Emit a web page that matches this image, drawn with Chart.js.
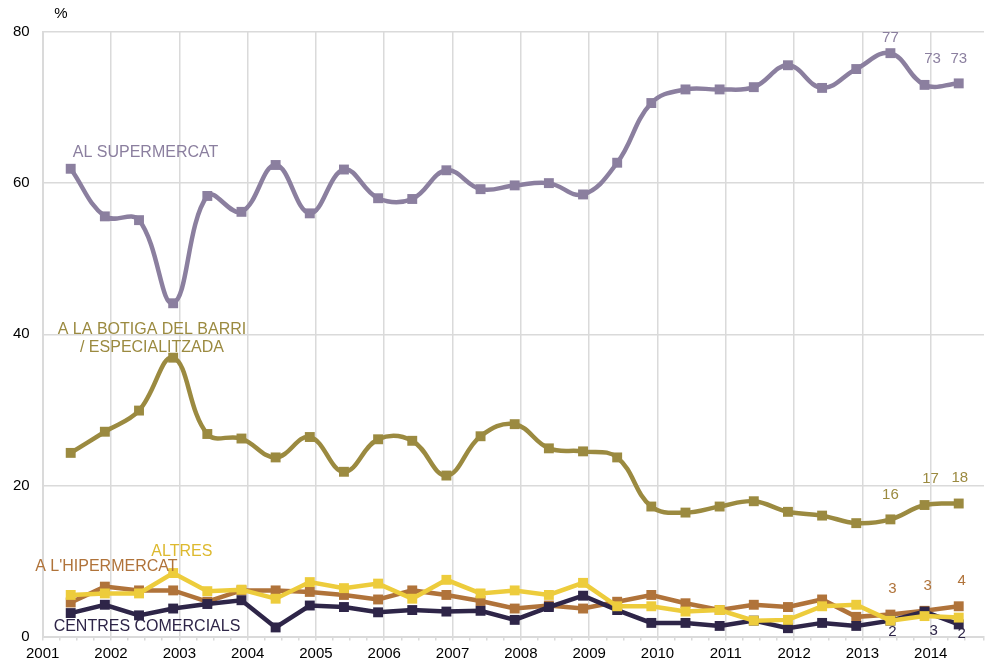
<!DOCTYPE html>
<html>
<head>
<meta charset="utf-8">
<script src="https://cdn.jsdelivr.net/npm/chart.js@4/dist/chart.umd.min.js"></script>
<style>
  html, body { margin: 0; padding: 0; background: #fff; }
  #wrap { width: 991px; height: 663px; position: relative; }
</style>
</head>
<body>
<div id="wrap"><canvas id="lineChart"></canvas></div>
<script>
// survey waves (decimal year of each fieldwork)
var dates = [2001.41, 2001.91, 2002.41, 2002.91, 2003.41, 2003.91, 2004.41, 2004.91, 2005.41,
             2005.91, 2006.41, 2006.91, 2007.41, 2007.91, 2008.41, 2008.91, 2009.41, 2009.91,
             2010.41, 2010.91, 2011.41, 2011.91, 2012.41, 2012.91, 2013.41, 2013.91, 2014.41];

var supermercat = [61.9, 55.6, 55.1, 44.1, 58.3, 56.2, 62.4, 56.0, 61.8, 58.0, 57.9, 61.7, 59.2, 59.7,
                   60.0, 58.5, 62.7, 70.6, 72.4, 72.4, 72.7, 75.6, 72.6, 75.1, 77.2, 73.0, 73.2];
var botiga = [24.3, 27.1, 29.9, 36.9, 26.8, 26.2, 23.7, 26.4, 21.8, 26.1, 25.9, 21.3, 26.5, 28.1,
              24.9, 24.5, 23.7, 17.2, 16.4, 17.2, 17.9, 16.5, 16.0, 15.0, 15.5, 17.4, 17.6];
var hipermercat = [4.5, 6.6, 6.1, 6.1, 4.6, 6.1, 6.1, 5.9, 5.5, 4.9, 6.1, 5.5, 4.7, 3.7,
                   4.1, 3.7, 4.6, 5.5, 4.4, 3.5, 4.2, 3.9, 4.9, 2.6, 2.9, 3.4, 4.0];
var altres = [5.5, 5.7, 5.7, 8.4, 6.0, 6.2, 5.0, 7.2, 6.4, 7.0, 5.0, 7.5, 5.7, 6.1,
              5.5, 7.1, 4.0, 4.0, 3.3, 3.5, 2.1, 2.2, 4.0, 4.2, 2.1, 2.7, 2.5];
var centres = [3.1, 4.2, 2.8, 3.7, 4.3, 4.8, 1.2, 4.1, 3.9, 3.2, 3.5, 3.3, 3.4, 2.2,
               3.9, 5.4, 3.5, 1.8, 1.8, 1.4, 2.1, 1.1, 1.8, 1.4, 2.1, 3.3, 1.6];

var yTicks = [0, 20, 40, 60, 80];

var colors = {
    supermercat: '#8B7F9F',
    botiga: '#9B8A40',
    hipermercat: '#B0733A',
    altres: '#EDCC3C',
    altresText: '#DDB92E',
    centres: '#2E2548'
};
var gridColor = '#DADADA';
var FONT = '"Liberation Sans", Arial, sans-serif';

function pts(values) {
    return values.map((v, i) => ({ x: dates[i], y: v }));
}

function series(label, values, color, tension, order) {
    return {
        label: label,
        data: pts(values),
        borderColor: color,
        backgroundColor: color,
        borderWidth: 4.5,
        pointStyle: 'rect',
        pointRadius: 7,
        pointBorderWidth: 0,
        pointBackgroundColor: color,
        tension: tension,
        fill: false,
        order: order,
        clip: false
    };
}

// labels written on the plot (series names and the last values)
var labelPlugin = {
    id: 'labels',
    afterDatasetsDraw(chart) {
        var ctx = chart.ctx;
        var xs = chart.scales.x, ys = chart.scales.y;
        ctx.save();

        // "%" unit
        ctx.font = '15px ' + FONT;
        ctx.fillStyle = '#000';
        ctx.textAlign = 'center';
        ctx.textBaseline = 'middle';
        ctx.fillText('%', 61, 14);

        // series names
        ctx.font = '16px ' + FONT;
        var names = [
            { t: 'AL SUPERMERCAT', x: 2001.44, y: 64.0, c: colors.supermercat, a: 'left' },
            { t: 'A LA BOTIGA DEL BARRI', x: 2002.6, y: 40.6, c: colors.botiga, a: 'center' },
            { t: '/ ESPECIALITZADA', x: 2002.6, y: 38.2, c: colors.botiga, a: 'center' },
            { t: 'ALTRES', x: 2002.59, y: 11.3, c: colors.altresText, a: 'left' },
            { t: "A L'HIPERMERCAT", x: 2000.89, y: 9.2, c: colors.hipermercat, a: 'left' },
            { t: 'CENTRES COMERCIALS', x: 2001.16, y: 1.3, c: colors.centres, a: 'left' }
        ];
        names.forEach(n => {
            ctx.fillStyle = n.c;
            ctx.textAlign = n.a;
            ctx.fillText(n.t, xs.getPixelForValue(n.x), ys.getPixelForValue(n.y));
        });

        // value labels on the last three waves
        ctx.font = '15px ' + FONT;
        ctx.textAlign = 'center';
        var valueLabels = [
            { s: supermercat, c: colors.supermercat, off: [[0, -15], [8, -26], [0, -25]] },
            { s: botiga, c: colors.botiga, off: [[0, -25], [6, -26], [1, -26]] },
            { s: hipermercat, c: colors.hipermercat, off: [[2, -26], [3, -25], [3, -25]] },
            { s: centres, c: colors.centres, off: [[2, 11], [9, 19], [3, 9]] }
        ];
        valueLabels.forEach(v => {
            ctx.fillStyle = v.c;
            for (var k = 0; k < 3; k++) {
                var i = v.s.length - 3 + k;
                var px = xs.getPixelForValue(dates[i]) + v.off[k][0];
                var py = ys.getPixelForValue(v.s[i]) + v.off[k][1];
                if (py < chart.chartArea.top + 6) {
                    ctx.save();
                    ctx.beginPath();
                    ctx.rect(0, chart.chartArea.top, chart.width, chart.height);
                    ctx.clip();
                    ctx.fillText(String(Math.round(v.s[i])), px, py);
                    ctx.restore();
                } else {
                    ctx.fillText(String(Math.round(v.s[i])), px, py);
                }
            }
        });
        ctx.restore();
    }
};

var ctx = document.getElementById('lineChart').getContext('2d');
var lineChart = new Chart(ctx, {
    type: 'line',
    data: {
        datasets: [
            series('AL SUPERMERCAT', supermercat, colors.supermercat, 0.4, 5),
            series('A LA BOTIGA DEL BARRI / ESPECIALITZADA', botiga, colors.botiga, 0.4, 4),
            series("A L'HIPERMERCAT", hipermercat, colors.hipermercat, 0, 3),
            series('CENTRES COMERCIALS', centres, colors.centres, 0, 2),
            series('ALTRES', altres, colors.altres, 0, 1)
        ]
    },
    options: {
        responsive: true,
        maintainAspectRatio: false,
        animation: false,
        layout: { padding: { top: 32, right: 0, left: 0, bottom: 0 } },
        plugins: {
            legend: { display: false },
            tooltip: { enabled: false }
        },
        scales: {
            x: {
                type: 'linear',
                min: 2001,
                max: 2014.78,
                afterFit: scale => { scale.height = 26.5; },
                border: { display: true, color: gridColor, width: 2 },
                grid: {
                    color: c => (c.tick && Number.isInteger(c.tick.value)) ? gridColor : 'rgba(0,0,0,0)',
                    tickColor: gridColor,
                    tickLength: 4,
                    lineWidth: 1.5
                },
                ticks: {
                    stepSize: 0.25,
                    autoSkip: false,
                    maxRotation: 0,
                    padding: 4,
                    color: '#000',
                    font: { family: FONT, size: 15 },
                    callback: v => Number.isInteger(v) ? String(v) : ''
                }
            },
            y: {
                min: yTicks[0],
                max: yTicks[yTicks.length - 1],
                afterFit: scale => { scale.width = 42.7; },
                afterBuildTicks: scale => { scale.ticks = yTicks.map(v => ({ value: v })); },
                border: { display: true, color: gridColor, width: 2 },
                grid: { color: gridColor, drawTicks: false, lineWidth: 1.5 },
                ticks: {
                    padding: 13,
                    color: '#000',
                    font: { family: FONT, size: 15 }
                }
            }
        }
    },
    plugins: [labelPlugin]
});
</script>
</body>
</html>
